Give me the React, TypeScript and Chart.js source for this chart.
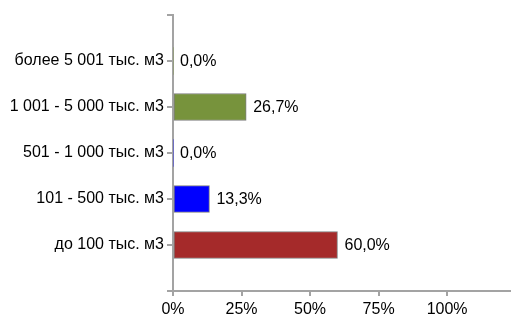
import React, { useEffect, useRef } from "react";
import { Chart, registerables } from "chart.js";

Chart.register(...registerables);

const categories = [
  "более 5 001 тыс. м3",
  "1 001 - 5 000 тыс. м3",
  "501 - 1 000 тыс. м3",
  "101 - 500 тыс. м3",
  "до 100 тыс. м3",
];
const values = [0, 26.7, 0, 13.3, 60];
const barColors = ["#77933c", "#77933c", "#0000ff", "#0000ff", "#a52a2a"];
const xTickValues = [0, 25, 50, 75, 100];

const FONT = "'Liberation Sans', Arial, sans-serif";
const AXIS = "#a3a3a3";

const valueLabels = {
  id: "valueLabels",
  afterDatasetsDraw(chart: any) {
    const ctx = chart.ctx;
    const meta = chart.getDatasetMeta(0);
    const data = chart.data.datasets[0].data;
    ctx.save();
    ctx.font = `16px ${FONT}`;
    ctx.fillStyle = "#000";
    ctx.textAlign = "left";
    ctx.textBaseline = "middle";
    meta.data.forEach((el: any, i: number) => {
      const v = data[i];
      if (v === null || v === undefined) return;
      ctx.fillText(v.toFixed(1).replace(".", ",") + "%", el.x + 7, el.y + 1);
    });
    ctx.restore();
  },
};

export default function App() {
  const ref = useRef<HTMLCanvasElement>(null);
  useEffect(() => {
    const labels = ["", ...categories, ""];
    const data = [null, ...values, null];
    const colors = ["transparent", ...barColors, "transparent"];
    const borderWidths = data.map((v) => (v ? 1 : 0));
    const chart = new Chart(ref.current!, {
      type: "bar",
      data: {
        labels,
        datasets: [
          {
            data: data as any,
            backgroundColor: colors,
            borderColor: "#7f7f7f",
            borderWidth: borderWidths,
            borderSkipped: false,
            barThickness: 27,
          },
        ],
      },
      options: {
        indexAxis: "y",
        animation: false,
        responsive: false,
        layout: { padding: { top: 15, right: 0, left: 0, bottom: 0 } },
        plugins: { legend: { display: false }, tooltip: { enabled: false } },
        scales: {
          x: {
            type: "linear",
            min: 0,
            max: 123.3,
            afterBuildTicks(scale: any) {
              scale.ticks = xTickValues.map((v) => ({ value: v }));
            },
            afterFit(scale: any) {
              scale.height = 25;
            },
            ticks: {
              font: { family: FONT, size: 16 },
              color: "#000",
              padding: 4,
              callback: (v: any) => v + "%",
            },
            grid: {
              drawOnChartArea: false,
              drawTicks: true,
              tickLength: 5,
              color: AXIS,
              lineWidth: 2,
              offset: false,
            },
            border: { display: true, color: AXIS, width: 2 },
          },
          y: {
            type: "category",
            offset: false,
            afterFit(scale: any) {
              scale.width = 173;
            },
            ticks: {
              autoSkip: false,
              font: { family: FONT, size: 16 },
              color: "#000",
              padding: 3,
            },
            grid: {
              drawOnChartArea: false,
              drawTicks: true,
              tickLength: 6,
              color: AXIS,
              lineWidth: 2,
              offset: false,
            },
            border: { display: true, color: AXIS, width: 2 },
          },
        },
      },
      plugins: [valueLabels],
    });
    return () => chart.destroy();
  }, []);
  return (
    <div style={{ position: "fixed", left: 0, top: 0, width: 511, height: 316, overflow: "hidden", background: "#fff" }}>
      <canvas ref={ref} width={511} height={316} />
    </div>
  );
}
